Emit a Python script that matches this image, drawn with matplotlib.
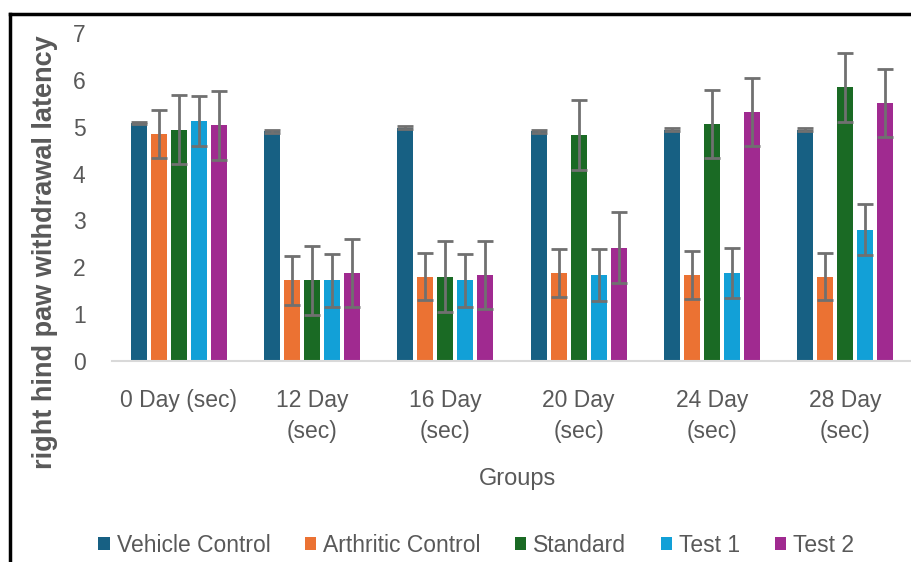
import matplotlib
matplotlib.use("Agg")
import matplotlib.pyplot as plt
import numpy as np
from matplotlib.patches import Patch
from matplotlib.lines import Line2D

plt.rcParams['font.family'] = ['Liberation Sans', 'DejaVu Sans']

categories = ["0 Day (sec)", "12 Day\n(sec)", "16 Day\n(sec)", "20 Day\n(sec)",
              "24 Day\n(sec)", "28 Day\n(sec)"]
series_names = ["Vehicle Control", "Arthritic Control", "Standard", "Test 1", "Test 2"]
colors = ["#176083", "#EB7233", "#1A6A24", "#12A0D7", "#A02A90"]

vehicle_control = [5.08, 4.90, 4.98, 4.90, 4.94, 4.94]
arthritic_control = [4.85, 1.72, 1.80, 1.88, 1.84, 1.80]
standard = [4.94, 1.72, 1.80, 4.82, 5.06, 5.84]
test_1 = [5.12, 1.72, 1.72, 1.84, 1.88, 2.80]
test_2 = [5.03, 1.88, 1.84, 2.42, 5.32, 5.50]

vehicle_control_err = [0.03, 0.03, 0.03, 0.03, 0.03, 0.03]
arthritic_control_err = [0.51, 0.52, 0.50, 0.52, 0.51, 0.50]
standard_err = [0.73, 0.73, 0.76, 0.74, 0.73, 0.73]
test_1_err = [0.53, 0.56, 0.56, 0.56, 0.54, 0.54]
test_2_err = [0.73, 0.73, 0.73, 0.75, 0.73, 0.73]

y_ticks = [0, 1, 2, 3, 4, 5, 6, 7]

values = [vehicle_control, arthritic_control, standard, test_1, test_2]
errors = [vehicle_control_err, arthritic_control_err, standard_err, test_1_err, test_2_err]

text_color = "#595959"

fig = plt.figure(figsize=(9.12, 5.62), dpi=100)
ax = fig.add_axes([112 / 912, (562 - 361) / 562, 800 / 912, 328 / 562])

x = np.arange(len(categories))
pitch = 0.15
width = 0.122
for i, (vals, errs, c, name) in enumerate(zip(values, errors, colors, series_names)):
    pos = x + (i - 2) * pitch
    ax.bar(pos, vals, width, color=c, label=name, zorder=2)
    ax.errorbar(pos, vals, yerr=errs, fmt="none", ecolor="#707070",
                elinewidth=2, capsize=5.5, capthick=2, zorder=3)

ax.set_xlim(-0.5, len(categories) - 0.5)
ax.set_ylim(0, 7)
ax.set_yticks(y_ticks)
ax.set_xticks(x)
ax.set_xticklabels(categories, linespacing=1.45)
ax.tick_params(axis="both", length=0, labelsize=16.5, labelcolor=text_color)
ax.tick_params(axis="y", pad=19)
ax.tick_params(axis="x", pad=20)
for s in ["top", "right", "left"]:
    ax.spines[s].set_visible(False)
ax.spines["bottom"].set_color("#D9D9D9")
ax.spines["bottom"].set_linewidth(1.5)

fig.text(0.567, 1 - 479 / 562, "Groups", ha="center", va="center",
         fontsize=17, color=text_color)
fig.text(45 / 912, 1 - 252 / 562, "right hind paw withdrawal latency",
         rotation=90, ha="center", va="center", fontsize=19.5,
         fontweight="bold", color=text_color)

handles = [Patch(facecolor=c, edgecolor="none") for c in colors]
fig.legend(handles, series_names, loc="center", bbox_to_anchor=(0.522, 1 - 545 / 562),
           ncol=5, frameon=False, fontsize=16.5, labelcolor=text_color,
           handlelength=0.5, handleheight=0.5, handletextpad=0.3,
           columnspacing=1.5, borderaxespad=0)

# black frame along the top and left edges
fig.add_artist(Line2D([10 / 912, 1.0], [1 - 14 / 562, 1 - 14 / 562],
                      color="black", linewidth=2.5, transform=fig.transFigure))
fig.add_artist(Line2D([10 / 912, 10 / 912], [0, 1 - 14 / 562],
                      color="black", linewidth=2.5, transform=fig.transFigure))

fig.savefig("out.png", dpi=100)
